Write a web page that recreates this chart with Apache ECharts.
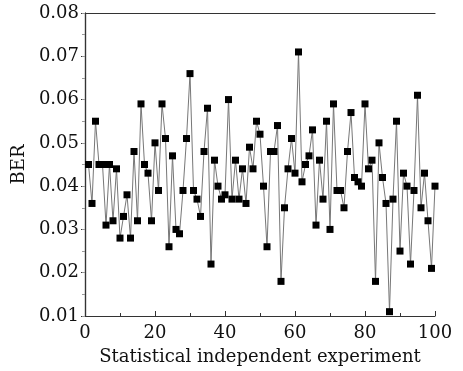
<!DOCTYPE html>
<html>
<head>
<meta charset="utf-8">
<script src="https://cdn.jsdelivr.net/npm/echarts@6/dist/echarts.min.js"></script>
<style>html,body{margin:0;padding:0;background:#fff;}#c{width:463px;height:371px;}</style>
</head>
<body>
<div id="c"></div>
<script>
const experiments = Array.from({length: 100}, (_, i) => i + 1);
const berValues = [
  0.045, 0.036, 0.055, 0.045, 0.045, 0.031, 0.045, 0.032, 0.044, 0.028,
  0.033, 0.038, 0.028, 0.048, 0.032, 0.059, 0.045, 0.043, 0.032, 0.050,
  0.039, 0.059, 0.051, 0.026, 0.047, 0.030, 0.029, 0.039, 0.051, 0.066,
  0.039, 0.037, 0.033, 0.048, 0.058, 0.022, 0.046, 0.040, 0.037, 0.038,
  0.060, 0.037, 0.046, 0.037, 0.044, 0.036, 0.049, 0.044, 0.055, 0.052,
  0.040, 0.026, 0.048, 0.048, 0.054, 0.018, 0.035, 0.044, 0.051, 0.043,
  0.071, 0.041, 0.045, 0.047, 0.053, 0.031, 0.046, 0.037, 0.055, 0.030,
  0.059, 0.039, 0.039, 0.035, 0.048, 0.057, 0.042, 0.041, 0.040, 0.059,
  0.044, 0.046, 0.018, 0.050, 0.042, 0.036, 0.011, 0.037, 0.055, 0.025,
  0.043, 0.040, 0.022, 0.039, 0.061, 0.035, 0.043, 0.032, 0.021, 0.040
];
const xTicks = [0, 20, 40, 60, 80, 100];
const yTicks = [0.01, 0.02, 0.03, 0.04, 0.05, 0.06, 0.07, 0.08];

const font = 'DejaVu Serif';
const chart = echarts.init(document.getElementById('c'));
const axisLine = {show: true, lineStyle: {color: '#333', width: 1.2}};
chart.setOption({
  animation: false,
  backgroundColor: '#fff',
  grid: {left: 85, right: 28, top: 13, bottom: 54},
  xAxis: [{
    type: 'value', min: xTicks[0], max: xTicks[xTicks.length - 1], interval: 20,
    name: 'Statistical independent experiment', nameLocation: 'middle', nameGap: 32,
    nameTextStyle: {fontFamily: font, fontSize: 18, color: '#111'},
    axisLine: axisLine,
    axisTick: {show: true, inside: true, length: 5, lineStyle: {color: '#333'}},
    minorTick: {show: true, splitNumber: 2, length: 3, lineStyle: {color: '#333'}},
    axisLabel: {fontFamily: font, fontSize: 18, color: '#111', margin: 8},
    splitLine: {show: false}
  }, {
    type: 'value', position: 'top', min: 0, max: 100, interval: 20,
    axisLine: axisLine, axisTick: {show: false}, axisLabel: {show: false}, splitLine: {show: false}
  }],
  yAxis: [{
    type: 'value', min: yTicks[0], max: yTicks[yTicks.length - 1], interval: 0.01,
    name: 'BER', nameLocation: 'middle', nameGap: 47,
    nameTextStyle: {fontFamily: font, fontSize: 18, color: '#111'},
    axisLine: axisLine,
    axisTick: {show: true, inside: false, length: 4, lineStyle: {color: '#333'}},
    minorTick: {show: true, splitNumber: 2, length: 3, lineStyle: {color: '#333'}},
    axisLabel: {fontFamily: font, fontSize: 18, color: '#111', margin: 6,
      formatter: v => v.toFixed(2)},
    splitLine: {show: false}
  }, {
    type: 'value', position: 'right', min: 0.01, max: 0.08, interval: 0.01,
    axisLine: axisLine,
    axisTick: {show: true, inside: true, length: 3, lineStyle: {color: '#999'}},
    minorTick: {show: true, splitNumber: 2, length: 3, lineStyle: {color: '#999'}},
    axisLabel: {show: false}, splitLine: {show: false}
  }],
  series: [{
    type: 'line',
    data: experiments.map((x, i) => [x, berValues[i]]),
    symbol: 'rect', symbolSize: 7,
    itemStyle: {color: '#000'},
    lineStyle: {color: '#777', width: 1},
    clip: false
  }]
});
</script>
</body>
</html>
